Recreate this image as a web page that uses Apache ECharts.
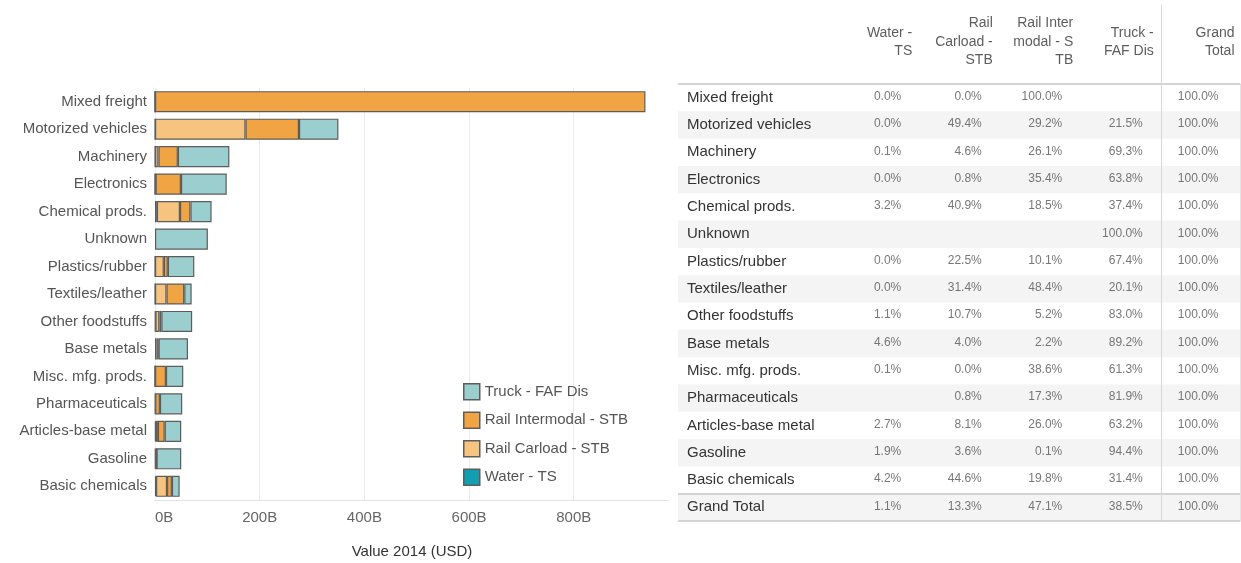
<!DOCTYPE html>
<html><head><meta charset="utf-8">
<script src="https://cdn.jsdelivr.net/npm/echarts@6/dist/echarts.min.js"></script>
<style>html,body{margin:0;padding:0;background:#fff}#c{width:1241px;height:563px}</style>
</head><body><div id="c"></div>
<script>
// ---- Data ----
const categories = ['Mixed freight','Motorized vehicles','Machinery','Electronics','Chemical prods.','Unknown','Plastics/rubber','Textiles/leather','Other foodstuffs','Base metals','Misc. mfg. prods.','Pharmaceuticals','Articles-base metal','Gasoline','Basic chemicals'];
const modes = ['Water - TS','Rail Carload - STB','Rail Intermodal - STB','Truck - FAF Dis'];
const legendOrder = ['Truck - FAF Dis','Rail Intermodal - STB','Rail Carload - STB','Water - TS'];
// values, billions USD
const water          = [0,   0,     0.1, 0,    3.5,  null, 0,    0,    0.8,  2.9,  0.1,  null, 1.4,  1.0,  2.0];
const railCarload    = [0,   172.9, 6.5, 1.1,  44.2, null, 16.9, 22.0, 7.6,  2.5,  0,    0.4,  4.1,  1.8,  21.0];
const railIntermodal = [937, 102.2, 37.1,48.5, 20.0, null, 7.6,  33.9, 3.7,  1.4,  20.8, 9.0,  13.0, 0.1,  9.3];
const truck          = [null,75.3,  98.4,87.4, 40.4, 101,  50.6, 14.1, 58.9, 56.2, 33.1, 42.6, 31.6, 47.2, 14.8];
const xTicks = [0, 200, 400, 600, 800];
// table (percent of row total)
const tableRows = categories.concat(['Grand Total']);
const pctWater       = [0.0, 0.0, 0.1, 0.0, 3.2, null, 0.0, 0.0, 1.1, 4.6, 0.1, null, 2.7, 1.9, 4.2, 1.1];
const pctCarload     = [0.0, 49.4, 4.6, 0.8, 40.9, null, 22.5, 31.4, 10.7, 4.0, 0.0, 0.8, 8.1, 3.6, 44.6, 13.3];
const pctIntermodal  = [100.0, 29.2, 26.1, 35.4, 18.5, null, 10.1, 48.4, 5.2, 2.2, 38.6, 17.3, 26.0, 0.1, 19.8, 47.1];
const pctTruck       = [null, 21.5, 69.3, 63.8, 37.4, 100.0, 67.4, 20.1, 83.0, 89.2, 61.3, 81.9, 63.2, 94.4, 31.4, 38.5];
const pctGrandTotal  = [100.0, 100.0, 100.0, 100.0, 100.0, 100.0, 100.0, 100.0, 100.0, 100.0, 100.0, 100.0, 100.0, 100.0, 100.0, 100.0];
const headerLabels = ['Water -\nTS', 'Rail\nCarload -\nSTB', 'Rail Inter\nmodal - S\nTB', 'Truck -\nFAF Dis'];
const totalHeader = 'Grand\nTotal';

// ---- Styles ----
const FONT = "'Liberation Sans', Arial, sans-serif";
const colors = {'Water - TS':'#119fb1','Rail Carload - STB':'#f7c47f','Rail Intermodal - STB':'#f1a443','Truck - FAF Dis':'#9bcfcf'};
const seriesValues = {'Water - TS':water,'Rail Carload - STB':railCarload,'Rail Intermodal - STB':railIntermodal,'Truck - FAF Dis':truck};
const pctByMode = [pctWater, pctCarload, pctIntermodal, pctTruck];
const LINE = '#d6d6d6';

const chart = echarts.init(document.getElementById('c'));

function lineOnlyAxis(extra) {
  return Object.assign({
    axisLine:{show:true, lineStyle:{color:LINE, width:1}},
    axisTick:{show:false}, axisLabel:{show:false}, splitLine:{show:false}, splitArea:{show:false}
  }, extra);
}
function bodyY(gi, withLabels, withLine) {
  return {
    gridIndex:gi, type:'category', data:tableRows, inverse:true,
    axisTick:{show:false},
    axisLine:{show:!!withLine, lineStyle:{color:LINE}},
    axisLabel: withLabels ? {show:true, inside:true, margin:9, color:'#333', fontSize:15, interval:0} : {show:false},
    splitArea:{show:true, interval:0, areaStyle:{color:['rgba(255,255,255,0)','#f4f4f4']}},
    splitLine:{show:true, interval:(i, v) => v === tableRows[0] || v === 'Grand Total', lineStyle:{color:'#d3d3d3', width:2}}
  };
}
function cells(pcts, col) {
  const out = [];
  pcts.forEach((v, i) => { if (v != null) out.push([col, tableRows[i], v]); });
  return out;
}

const barSeries = modes.map(m => ({
  type:'bar', name:m, stack:'total', xAxisIndex:0, yAxisIndex:0,
  data: seriesValues[m], barWidth:'77%',
  itemStyle:{color:colors[m], borderColor:'#5c5c5c', borderWidth:1.2},
  emphasis:{disabled:true}
}));

const cellLabel = (offx, size, color) => ({
  show:true, position:'inside', align:'right', verticalAlign:'middle', offset:[offx,-1],
  color:color, fontSize:size, fontFamily:FONT
});

const option = {
  animation:false,
  textStyle:{fontFamily:FONT},
  grid:[
    {left:155, top:88, width:514, height:412, outerBoundsMode:'none'},
    {left:678, top:84, width:161, height:437, outerBoundsMode:'none'},
    {left:839, top:84, width:322, height:437, outerBoundsMode:'none'},
    {left:1161, top:84, width:79, height:437, outerBoundsMode:'none'},
    {left:839, top:0, width:322, height:84, outerBoundsMode:'none'},
    {left:1161, top:5, width:79, height:79, outerBoundsMode:'none'}
  ],
  legend:{
    data:legendOrder, orient:'vertical', left:458, top:378,
    icon:'rect', itemWidth:16, itemHeight:16, itemGap:11, itemTextGap:8,
    itemStyle:{borderWidth:1.5},
    textStyle:{color:'#555', fontSize:15, lineHeight:16}, selectedMode:false
  },
  xAxis:[
    {gridIndex:0, type:'value', min:xTicks[0], max:982, interval:xTicks[1]-xTicks[0],
     axisLine:{show:true, lineStyle:{color:'#e3e3e3'}}, axisTick:{show:false},
     axisLabel:{formatter:v => v + 'B', color:'#666', fontSize:15, margin:10, showMaxLabel:false, alignMinLabel:'left'},
     splitLine:{show:true, showMaxLine:false, lineStyle:{color:'#ececec'}},
     name:'Value 2014 (USD)', nameLocation:'middle', nameGap:44, nameTextStyle:{color:'#333', fontSize:15}},
    lineOnlyAxis({gridIndex:1, type:'category', data:[''], position:'bottom'}),
    lineOnlyAxis({gridIndex:1, type:'category', data:[''], position:'top'}),
    lineOnlyAxis({gridIndex:2, type:'category', data:modes, position:'bottom'}),
    lineOnlyAxis({gridIndex:2, type:'category', data:modes, position:'top'}),
    lineOnlyAxis({gridIndex:3, type:'category', data:['Grand Total'], position:'bottom'}),
    lineOnlyAxis({gridIndex:3, type:'category', data:['Grand Total'], position:'top'}),
    {gridIndex:4, type:'category', data:modes, show:false},
    {gridIndex:5, type:'category', data:['Grand Total'], show:false}
  ],
  yAxis:[
    {gridIndex:0, type:'category', data:categories, inverse:true,
     axisLine:{show:false}, axisTick:{show:false},
     axisLabel:{color:'#555', fontSize:15, margin:8, interval:0}},
    bodyY(1, true, false),
    bodyY(2, false, false),
    bodyY(3, false, true),
    lineOnlyAxis({gridIndex:3, type:'category', data:tableRows, inverse:true, position:'right', axisLine:{show:true, lineStyle:{color:'#e4e4e4'}}}),
    {gridIndex:4, type:'value', min:-1, max:1, show:false},
    lineOnlyAxis({gridIndex:5, type:'value', min:-1, max:1})
  ],
  series: barSeries.concat([
    {type:'scatter', xAxisIndex:3, yAxisIndex:2, symbolSize:1, itemStyle:{color:'rgba(0,0,0,0)'}, silent:true,
     data: [].concat(...modes.map((m, c) => cells(pctByMode[c], m))),
     label: Object.assign(cellLabel(22, 12, '#555'), {formatter:p => p.value[2].toFixed(1) + '%'})},
    {type:'scatter', xAxisIndex:5, yAxisIndex:3, symbolSize:1, itemStyle:{color:'rgba(0,0,0,0)'}, silent:true,
     data: cells(pctGrandTotal, 'Grand Total'),
     label: Object.assign(cellLabel(18, 12, '#555'), {formatter:p => p.value[2].toFixed(1) + '%'})},
    {type:'scatter', xAxisIndex:7, yAxisIndex:5, symbolSize:1, itemStyle:{color:'rgba(0,0,0,0)'}, silent:true,
     data: modes.map(m => [m, 0]),
     label:{show:true, position:'inside', align:'right', verticalAlign:'middle', offset:[33,0], color:'#333', fontSize:14, lineHeight:18.5, fontFamily:FONT,
            formatter:p => headerLabels[p.dataIndex]}},
    {type:'scatter', xAxisIndex:8, yAxisIndex:6, symbolSize:1, itemStyle:{color:'rgba(0,0,0,0)'}, silent:true,
     data: [['Grand Total', 0]],
     label:{show:true, position:'inside', align:'right', verticalAlign:'middle', offset:[34,-2.5], color:'#333', fontSize:14, lineHeight:18.5, fontFamily:FONT,
            formatter:() => totalHeader}}
  ])
};
chart.setOption(option);
</script>
</body></html>
